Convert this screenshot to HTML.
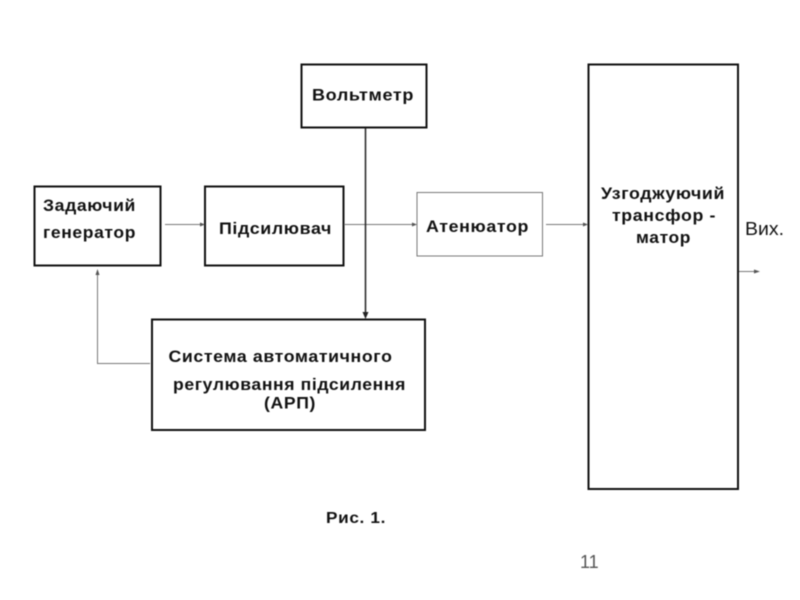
<!DOCTYPE html>
<html>
<head>
<meta charset="utf-8">
<style>
html,body{margin:0;padding:0;background:#fff}
svg{display:block;filter:blur(0.45px)}
text{font-family:"Liberation Sans",sans-serif;font-size:17px;font-weight:bold;fill:#111;letter-spacing:.6px}
</style>
</head>
<body>
<svg width="800" height="600" viewBox="0 0 800 600" xmlns="http://www.w3.org/2000/svg">
<rect width="800" height="600" fill="#fff"/>
<g fill="none" stroke="#111" stroke-width="2">
<rect x="301.500" y="64.500" width="125" height="63"/>
<rect x="34.500" y="186.500" width="126" height="79"/>
<rect x="205" y="186.500" width="138.500" height="79"/>
<rect x="152" y="319.500" width="273" height="110.500"/>
<rect x="588.500" y="64.500" width="149.500" height="424.500"/>
</g>
<rect x="417" y="192.500" width="125.500" height="63.500" fill="none" stroke="#777" stroke-width="1"/>
<g fill="none" stroke="#777" stroke-width="1">
<path d="M165 224.500H203"/>
<path d="M344 224.500H415"/>
<path d="M546 224.500H586"/>
<path d="M739 271.500H757"/>
<path d="M150 363.500H97.500V273"/>
</g>
<path d="M365.500 128V314" stroke="#222" stroke-width="1.500" fill="none"/>
<g fill="#555">
<path d="M205 224.500l-5 -2v4z"/>
<path d="M417 224.500l-5 -2v4z"/>
<path d="M588 224.500l-5 -2v4z"/>
<path d="M760 271.500l-6 -2v4z"/>
<path d="M97.500 269l-2 6h4z"/>
</g>
<path d="M365.500 319l-3 -7h6z" fill="#222"/>
<text x="312" y="100.500" textLength="102" lengthAdjust="spacingAndGlyphs">Вольтметр</text>
<text x="43" y="211" textLength="93" lengthAdjust="spacingAndGlyphs">Задаючий</text>
<text x="43" y="238" textLength="93" lengthAdjust="spacingAndGlyphs">генератор</text>
<text x="219" y="234" textLength="113" lengthAdjust="spacingAndGlyphs">Підсилювач</text>
<text x="426" y="232" textLength="103" lengthAdjust="spacingAndGlyphs">Атенюатор</text>
<text x="168.500" y="362" textLength="224" lengthAdjust="spacingAndGlyphs">Система автоматичного</text>
<text x="173" y="390" textLength="233" lengthAdjust="spacingAndGlyphs">регулювання підсилення</text>
<text x="264" y="408.500" textLength="52" lengthAdjust="spacingAndGlyphs">(АРП)</text>
<text x="601" y="199" textLength="124" lengthAdjust="spacingAndGlyphs">Узгоджуючий</text>
<text x="612" y="221" textLength="104" lengthAdjust="spacingAndGlyphs">трансфор -</text>
<text x="636" y="243" textLength="55" lengthAdjust="spacingAndGlyphs">матор</text>
<text x="745" y="235" textLength="39" lengthAdjust="spacingAndGlyphs" style="font-weight:normal;font-size:18px;letter-spacing:0">Вих.</text>
<text x="326" y="523" textLength="60" lengthAdjust="spacingAndGlyphs" style="font-size:16px">Рис. 1.</text>
<text x="580" y="568" style="font-weight:normal;font-size:18px;fill:#555;letter-spacing:0">11</text>
</svg>
</body>
</html>
